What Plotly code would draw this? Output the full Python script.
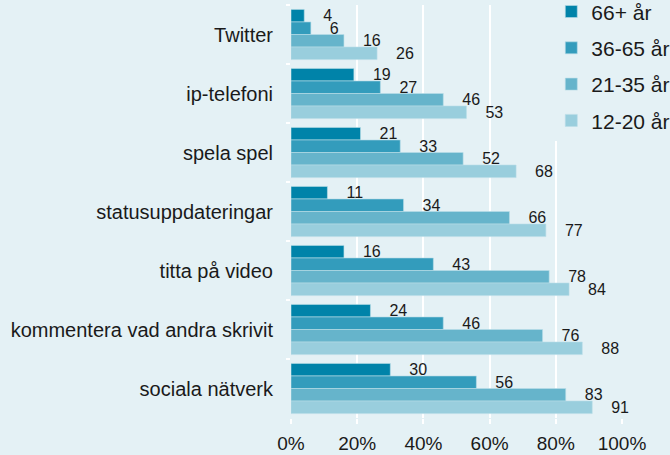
import plotly.graph_objects as go

categories = ["Twitter", "ip-telefoni", "spela spel", "statusuppdateringar",
              "titta på video", "kommentera vad andra skrivit", "sociala nätverk"]
series_names = ["66+ år", "36-65 år", "21-35 år", "12-20 år"]
v_66 = [4, 19, 21, 11, 16, 24, 30]
v_36 = [6, 27, 33, 34, 43, 46, 56]
v_21 = [16, 46, 52, 66, 78, 76, 83]
v_12 = [26, 53, 68, 77, 84, 88, 91]
series_values = [v_66, v_36, v_21, v_12]
colors = ["#0083A9", "#339CBC", "#66B4CB", "#99CEDD"]
x_ticks = [0, 20, 40, 60, 80, 100]
x_tick_labels = ["0%", "20%", "40%", "60%", "80%", "100%"]

BG = "#E4F1F5"
FONT = "Liberation Sans, Arial, sans-serif"

fig = go.Figure()
for name, vals, col in zip(series_names, series_values, colors):
    fig.add_trace(go.Bar(
        y=categories, x=vals, name=name, orientation="h",
        marker=dict(color=col, line=dict(width=0.6, color="#B8DDE8")),
        text=vals, texttemplate="\u2002\u2002%{x}", textposition="outside",
        textfont=dict(size=16, color="#1a1a1a", family=FONT),
        constraintext="none", cliponaxis=False,
        legendgroup=name,
    ))

fig.update_layout(
    width=670, height=455,
    paper_bgcolor=BG, plot_bgcolor=BG,
    barmode="group", bargap=0.15, bargroupgap=0,
    margin=dict(l=291, r=48, t=5, b=37, autoexpand=False),
    font=dict(family=FONT, color="#1a1a1a"),
    legend=dict(
        x=1.161, xanchor="right", y=1.033, yanchor="top",
        xref="paper", yref="paper",
        bgcolor=BG, borderwidth=0,
        font=dict(size=21, family=FONT, color="#1a1a1a"),
        traceorder="grouped", tracegroupgap=6,
        itemwidth=30,
    ),
    xaxis=dict(
        range=[0, 100], tickvals=x_ticks, ticktext=x_tick_labels,
        showgrid=True, gridcolor="white", gridwidth=2,
        zeroline=False, showline=False,
        ticks="outside", ticklen=5, tickcolor="white", tickwidth=2,
        tickfont=dict(size=19, family=FONT, color="#1a1a1a"),
        ticklabelstandoff=3, automargin=False,
    ),
    yaxis=dict(
        autorange="reversed", showgrid=False, zeroline=False,
        showline=False,
        ticks="outside", tickson="boundaries", ticklen=4,
        tickcolor="white", tickwidth=2,
        tickfont=dict(size=20, family=FONT, color="#1a1a1a"),
        ticklabelstandoff=17, automargin=False,
    ),
)

fig.write_html("out.html", config={"displayModeBar": False},
               post_script="document.body.style.margin='0';document.body.style.padding='0';")
